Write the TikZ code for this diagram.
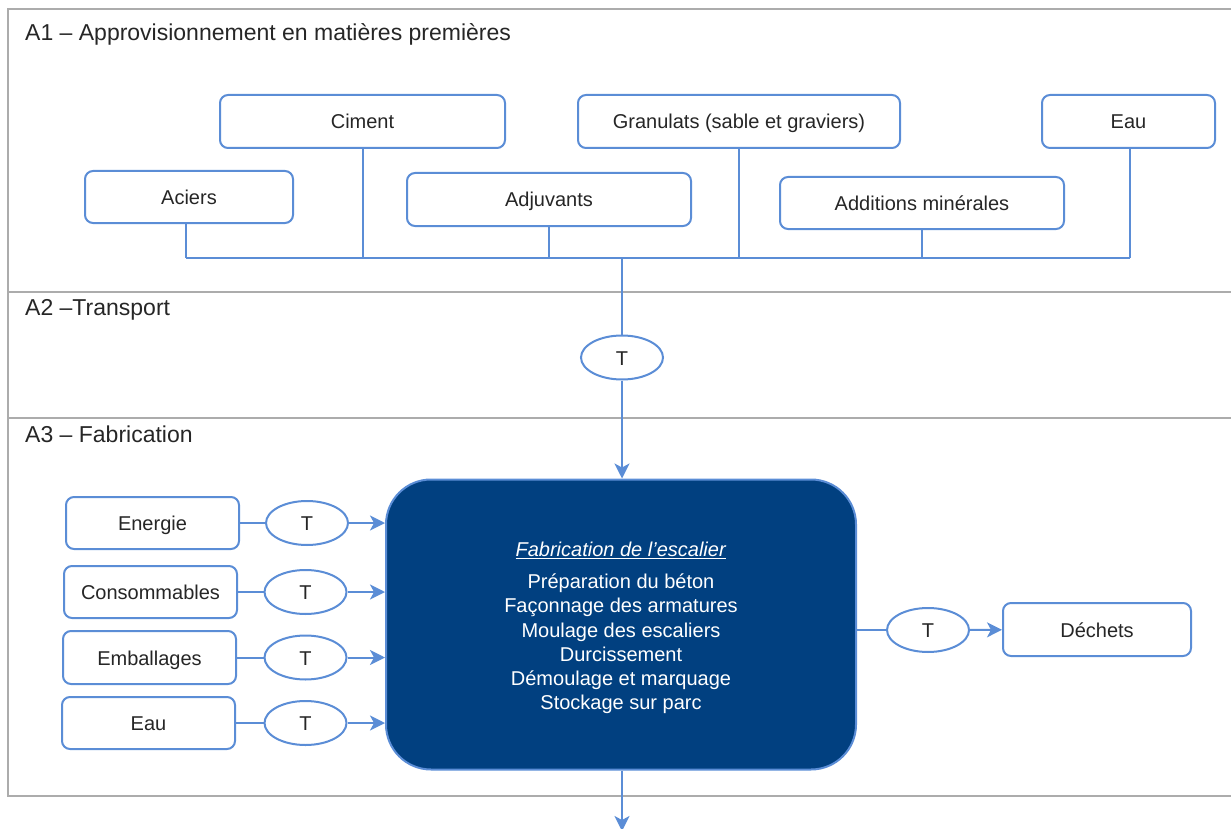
\documentclass[tikz,border=0pt]{standalone}
\usepackage{fontspec}
\setmainfont{Liberation Sans}
\usetikzlibrary{arrows.meta,shapes.geometric}
\definecolor{lb}{RGB}{91,141,214}
\definecolor{navy}{RGB}{1,64,128}
\definecolor{fr}{RGB}{172,172,172}
\definecolor{tx}{RGB}{38,38,38}
\begin{document}
\begin{tikzpicture}[x=1pt,y=-1pt,
  box/.style={draw=lb, line width=2pt, fill=white, rounded corners=8pt,
    minimum height=53pt, inner sep=0pt, text=tx, text height=16pt, text depth=1pt,
    font=\fontsize{20}{24}\selectfont},
  tnode/.style={draw=lb, line width=2pt, ellipse, fill=white,
    minimum width=82pt, minimum height=44pt, inner sep=0pt, text=tx,
    text height=16pt, text depth=1pt,
    font=\fontsize{20}{24}\selectfont},
  conn/.style={draw=lb, line width=2pt},
  arr/.style={conn, -{Stealth[length=15pt,width=15pt,inset=4pt]}},
  sect/.style={anchor=base west, inner sep=0pt, text=tx, font=\fontsize{23}{27}\selectfont},
  frame/.style={draw=fr, line width=2pt}
]
\useasboundingbox (0,0) rectangle (1231,829);
\clip (0,0) rectangle (1231,829);

% frame
\draw[frame] (1235,9) -- (8,9) -- (8,796) -- (1235,796);
\draw[frame] (8,292) -- (1235,292);
\draw[frame] (8,418) -- (1235,418);

\node[sect] (s1) at (25,41) {A1 – Approvisionnement en matières premières};
\node[sect] (s2) at (25,315) {A2 –Transport};
\node[sect] (s3) at (25,442) {A3 – Fabrication};

% A1 boxes
\node[box, minimum width=285pt] (ciment) at (362.5,121.5) {Ciment};
\node[box, minimum width=322pt] (gran) at (739,121.5) {Granulats (sable et graviers)};
\node[box, minimum width=173pt] (eau1) at (1128.5,121.5) {Eau};
\node[box, minimum width=208pt, minimum height=52pt] (aciers) at (189,197) {Aciers};
\node[box, minimum width=284pt] (adj) at (549,199.5) {Adjuvants};
\node[box, minimum width=284pt, minimum height=52pt] (addi) at (922,203) {Additions minérales};

\coordinate (busL) at (186,258);
\coordinate (busR) at (1130,258);
\coordinate (busM) at (622,258);
\draw[conn] (busL) -- (busR);
\draw[conn] (aciers.south -| busL) -- (busL);
\draw[conn] (ciment.south) -- (ciment.south |- busL);
\draw[conn] (adj.south) -- (adj.south |- busL);
\draw[conn] (gran.south) -- (gran.south |- busL);
\draw[conn] (addi.south) -- (addi.south |- busL);
\draw[conn] (eau1.south -| busR) -- (busR);

% A2
\node[tnode] (t0) at (622,357.5) {T};
\draw[conn] (busM) -- (t0);

% main box
\node[draw=lb, line width=2pt, fill=navy, rounded corners=45pt,
  minimum width=470pt, minimum height=290pt, inner sep=0pt] (main) at (621,624.5) {};
\node[text=white, align=center, inner sep=0pt, font=\fontsize{20}{24.2}\selectfont]
  (maintext) at (621,628)
  {\underline{\textit{Fabrication de l’escalier}}\\[8pt]
   Préparation du béton\\
   Façonnage des armatures\\
   Moulage des escaliers\\
   Durcissement\\
   Démoulage et marquage\\
   Stockage sur parc};
\draw[arr] (t0) -- (t0 |- main.north);
\coordinate (bottomEnd) at (622,831);
\draw[arr] (main.south -| bottomEnd) -- (bottomEnd);

% left inputs
\node[box, minimum width=173pt, minimum height=52pt] (energ) at (152.5,523) {Energie};
\node[box, minimum width=173pt, minimum height=52pt] (cons) at (150.5,592) {Consommables};
\node[box, minimum width=173pt] (emb) at (149.5,657.5) {Emballages};
\node[box, minimum width=173pt, minimum height=52pt] (eau2) at (148.5,723) {Eau};

\node[tnode] (t1) at (307,523) {T};
\node[tnode] (t2) at (305.5,592) {T};
\node[tnode] (t3) at (305.5,657.5) {T};
\node[tnode] (t4) at (305.5,723) {T};

\draw[conn] (energ) -- (t1);
\draw[conn] (cons) -- (t2);
\draw[conn] (emb) -- (t3);
\draw[conn] (eau2) -- (t4);
\draw[arr] (t1) -- (t1 -| main.west);
\draw[arr] (t2) -- (t2 -| main.west);
\draw[arr] (t3) -- (t3 -| main.west);
\draw[arr] (t4) -- (t4 -| main.west);

% output
\node[tnode] (t5) at (928,630) {T};
\node[box, minimum width=188pt] (dech) at (1097,629.5) {Déchets};
\draw[conn] (t5 -| main.east) -- (t5);
\draw[arr] (t5) -- (dech);
\end{tikzpicture}
\end{document}
